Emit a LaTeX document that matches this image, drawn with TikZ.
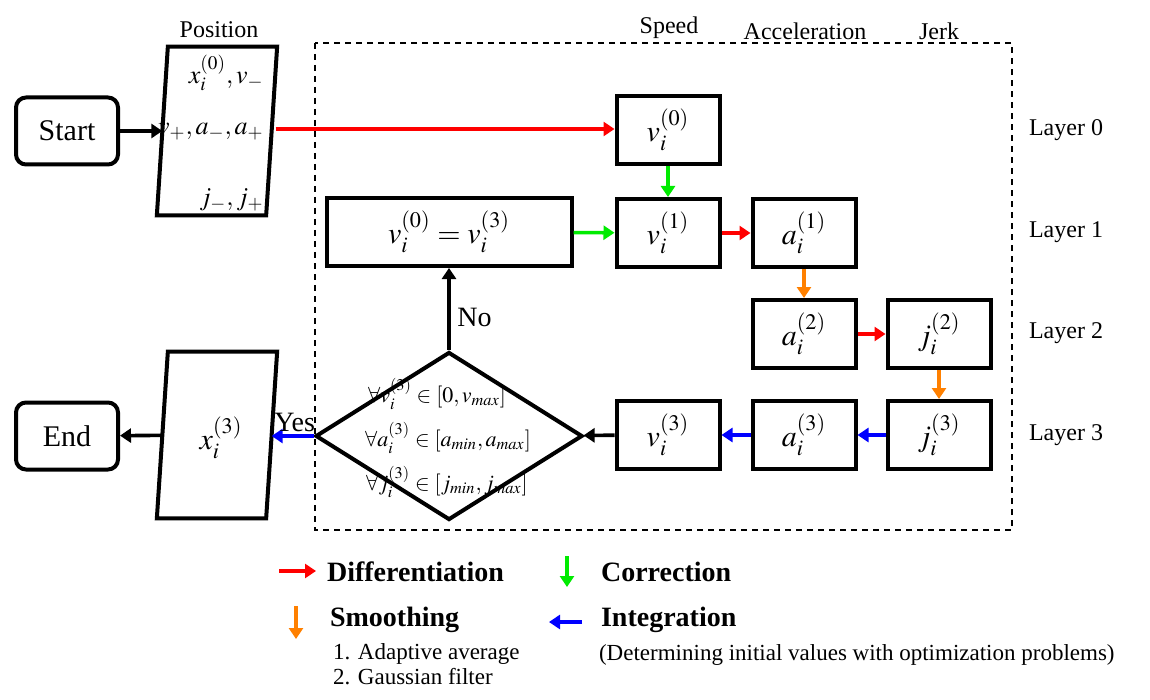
\documentclass[tikz,border=0pt]{standalone}
\usepackage{mathptmx}
\usepackage[no-math]{fontspec}
\setmainfont{Liberation Serif}
\usetikzlibrary{arrows.meta,shapes.geometric,calc}

\definecolor{diffred}{RGB}{255,0,0}
\definecolor{corrgreen}{RGB}{0,235,0}
\definecolor{smoothorange}{RGB}{255,128,0}
\definecolor{intblue}{RGB}{0,0,255}

\begin{document}
\begin{tikzpicture}
  [x=0.5pt,y=-0.5pt,
    box/.style={draw,line width=2pt,minimum width=51.5pt,minimum height=34pt,
      inner sep=0pt,font=\fontsize{15}{18}\selectfont},
    term/.style={box,rounded corners=5pt,minimum width=51pt,minimum height=33.5pt},
    io/.style={inner sep=0pt,minimum width=54.25pt},
    postext/.style={anchor=east,font=\fontsize{13}{16}\selectfont,inner sep=0pt},
    cond/.style={font=\fontsize{11}{13}\selectfont,inner sep=0pt},
    head/.style={font=\fontsize{12}{14}\selectfont},
    legend/.style={font=\bfseries\fontsize{14}{17}\selectfont,anchor=west},
    note/.style={font=\fontsize{11.5}{13}\selectfont,anchor=west},
    flow/.style={line width=1.8pt,-{Triangle[length=5.5pt,width=7pt]}},
    diff/.style={flow,diffred},
    corr/.style={flow,corrgreen},
    smooth/.style={flow,smoothorange},
    integ/.style={flow,intblue},
]
  \useasboundingbox (0,0) rectangle (1150,700);
  \draw[line width=0.8pt,dash pattern=on 3pt off 2.5pt] (315,43) rectangle (1012,530);

  % column and layer titles
  \node[head] (hpos) at (219,30) {Position};
  \node[head] (hspeed) at (669,28) {Speed};
  \node[head] (hacc) at (805,31) {Acceleration};
  \node[head] (hjerk) at (939,31) {Jerk};
  \foreach \l/\y in {0/130,1/232,2/333,3/435}
    \node[head] (layer\l) at (1066,\y) {Layer \l};

  % start, end and the two data blocks
  \node[term] (start) at (67,131) {Start};
  \node[term] (end) at (67,436) {End};
  \node[io,minimum height=84pt] (pos) at (217,131) {};
  \node[io,minimum height=83pt] (out) at (217,435) {};
  \foreach \n in {pos,out}
    \draw[line width=2pt] ($(\n.south west)+(-5.5,0)$) -- ($(\n.north west)+(5.5,0)$)
      -- ($(\n.north east)+(5.5,0)$) -- ($(\n.south east)+(-5.5,0)$) -- cycle;
  \node[postext] (p1) at (264,73) {$x_i^{(0)},v_-$};
  \node[postext] (p2) at (264,132) {$v_+,a_-,a_+$};
  \node[postext] (p3) at (264,200) {$j_-,j_+$};
  \node[font=\fontsize{15}{18}\selectfont] (xout) at (221,438) {$x_i^{(3)}$};

  % layers
  \node[box] (v0) at (668,130) {$v_i^{(0)}$};
  \node[box] (v1) at (668,233) {$v_i^{(1)}$};
  \node[box] (a1) at (804,233) {$a_i^{(1)}$};
  \node[box] (a2) at (804,334) {$a_i^{(2)}$};
  \node[box] (j2) at (939,334) {$j_i^{(2)}$};
  \node[box] (j3) at (939,435) {$j_i^{(3)}$};
  \node[box] (a3) at (804,435) {$a_i^{(3)}$};
  \node[box] (v3) at (668,435) {$v_i^{(3)}$};
  \node[box,minimum width=122.5pt] (reset) at (449,232) {$v_i^{(0)}=v_i^{(3)}$};

  % check
  \node[draw,diamond,line width=2pt,minimum width=133.5pt,minimum height=84pt,
    inner sep=0pt] (check) at (449,436) {};
  \node[cond] (c1) at (437,394) {$\forall v_i^{(3)}\in[0,v_{max}]$};
  \node[cond] (c2) at (448,438) {$\forall a_i^{(3)}\in[a_{min},a_{max}]$};
  \node[cond] (c3) at (447,482) {$\forall j_i^{(3)}\in[j_{min},j_{max}]$};

  % connectors
  \draw[flow] (start) -- (pos);
  \draw[diff] (p2.east -| pos.east) ++(4,-3) coordinate (pr) -- (pr -| v0.west);
  \draw[corr] (v0) -- (v1);
  \draw[corr] (reset) -- (v1);
  \draw[diff] (v1) -- (a1);
  \draw[smooth] (a1) -- (a2);
  \draw[diff] (a2) -- (j2);
  \draw[smooth] (j2) -- (j3);
  \draw[integ] (j3) -- (a3);
  \draw[integ] (a3) -- (v3);
  \draw[flow] (v3) -- (check);
  \draw[flow] (check.north) -- node[pos=0.4,right,font=\fontsize{14}{17}\selectfont] (no) {No} (reset);
  \draw[integ] (check.west) -- node[above,pos=0.45,inner sep=1pt,text=black,
    font=\fontsize{14}{17}\selectfont] (yes) {Yes} ($(out.east)+(0,1)$);
  \draw[flow] (out) -- (end);

  % legend
  \coordinate (ld0) at (279,571); \coordinate (ld1) at (316,571);
  \coordinate (lc0) at (567,556); \coordinate (lc1) at (567,587);
  \coordinate (ls0) at (296,606); \coordinate (ls1) at (296,639);
  \coordinate (li0) at (582,622); \coordinate (li1) at (549,622);
  \draw[diff] (ld0) -- (ld1);
  \draw[corr] (lc0) -- (lc1);
  \draw[smooth] (ls0) -- (ls1);
  \draw[integ] (li0) -- (li1);
  \node[legend] (ldiff) at (320,572) {Differentiation};
  \node[legend] (lcorr) at (594,572) {Correction};
  \node[legend] (lsmooth) at (323,620) {Smoothing};
  \node[legend] (linteg) at (594,620) {Integration};
  \node[note] (ls2) at (326,654) {1. Adaptive average};
  \node[note] (ls3) at (326,677) {2. Gaussian filter};
  \node[note] (li2) at (592,655) {(Determining initial values with optimization problems)};
\end{tikzpicture}
\end{document}
